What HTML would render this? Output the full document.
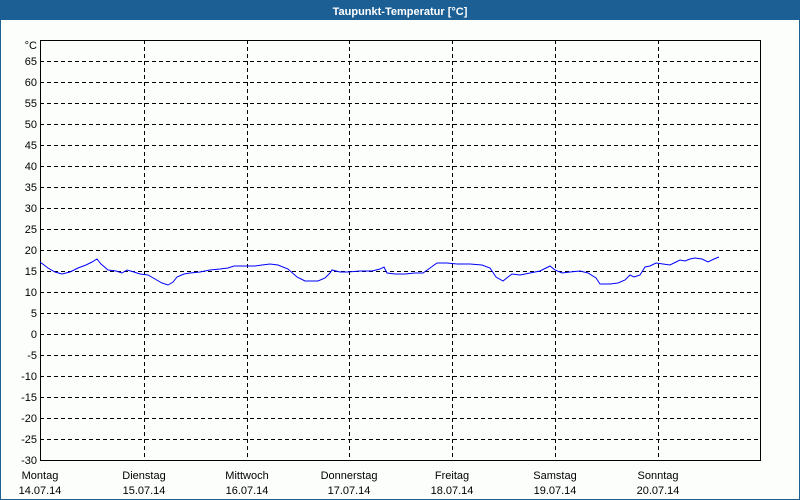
<!DOCTYPE html>
<html><head><meta charset="utf-8"><style>
body{margin:0;width:800px;height:500px;overflow:hidden;background:#fcfefc}
svg{display:block}
text{font-family:"Liberation Sans",sans-serif;font-size:11px;fill:#000}
</style></head><body>
<svg width="800" height="500" xmlns="http://www.w3.org/2000/svg">
<rect x="0" y="0" width="800" height="500" fill="#1c5f94"/>
<rect x="1" y="20" width="798" height="479" fill="#fcfefc"/>
<text x="400" y="15" text-anchor="middle" style="fill:#fff;font-weight:bold;font-size:11px">Taupunkt-Temperatur [°C]</text>
<g stroke="#000" stroke-dasharray="4,3" stroke-width="1">
<path d="M40,61.5H760M40,82.5H760M40,103.5H760M40,124.5H760M40,145.5H760M40,166.5H760M40,187.5H760M40,208.5H760M40,229.5H760M40,250.5H760M40,271.5H760M40,292.5H760M40,313.5H760M40,334.5H760M40,355.5H760M40,376.5H760M40,397.5H760M40,418.5H760M40,439.5H760"/>
<path d="M144.5,40V460M247.5,40V460M349.5,40V460M452.5,40V460M555.5,40V460M658.5,40V460"/>
</g>
<path d="M40.5,40V460.5H760.5V40" fill="none" stroke="#000" stroke-width="1"/>
<path d="M40.5,40.5H760" stroke="#000"/>
<g text-anchor="end">
<text x="37" y="49">°C</text>
<text x="37" y="65">65</text><text x="37" y="86">60</text><text x="37" y="107">55</text><text x="37" y="128">50</text><text x="37" y="149">45</text><text x="37" y="170">40</text><text x="37" y="191">35</text><text x="37" y="212">30</text><text x="37" y="233">25</text><text x="37" y="254">20</text><text x="37" y="275">15</text><text x="37" y="296">10</text><text x="37" y="317">5</text><text x="37" y="338">0</text><text x="37" y="359">-5</text><text x="37" y="380">-10</text><text x="37" y="401">-15</text><text x="37" y="422">-20</text><text x="37" y="443">-25</text><text x="37" y="464">-30</text>
</g>
<g text-anchor="middle">
<text x="40" y="479">Montag</text><text x="40" y="494">14.07.14</text>
<text x="144" y="479">Dienstag</text><text x="144" y="494">15.07.14</text>
<text x="247" y="479">Mittwoch</text><text x="247" y="494">16.07.14</text>
<text x="349" y="479">Donnerstag</text><text x="349" y="494">17.07.14</text>
<text x="452" y="479">Freitag</text><text x="452" y="494">18.07.14</text>
<text x="555" y="479">Samstag</text><text x="555" y="494">19.07.14</text>
<text x="658" y="479">Sonntag</text><text x="658" y="494">20.07.14</text>
</g>
<polyline fill="none" stroke="#0000ff" stroke-width="1" points="40,262 48,268 55,272 62,274 70,272 78,268 86,265 92,262 97,259 101,264 108,270 116,271 122,273 127,270 134,272 140,274 148,275 155,279 162,283 168,285 173,282 177,277 184,274 190,273 200,272 210,270 220,269 228,268 234,266 245,266 255,266 262,265 270,264 278,265 288,269 297,277 305,281 318,281 325,278 330,273 332,270 340,272 348,272 360,271 372,271 380,269 384,267 387,273 395,274 405,274 415,273 423,273 430,268 437,263 447,263 457,264 470,264 482,265 490,268 496,277 503,281 508,277 512,274 520,275 530,273 540,271 546,268 550,266 555,270 562,273 570,272 580,271 588,273 596,278 600,284 610,284 618,283 625,280 630,275 634,277 640,275 645,267 650,266 656,263 663,264 670,265 676,262 680,260 685,261 690,259 695,258 702,259 708,262 714,259 719,257"/>
</svg>
</body></html>
